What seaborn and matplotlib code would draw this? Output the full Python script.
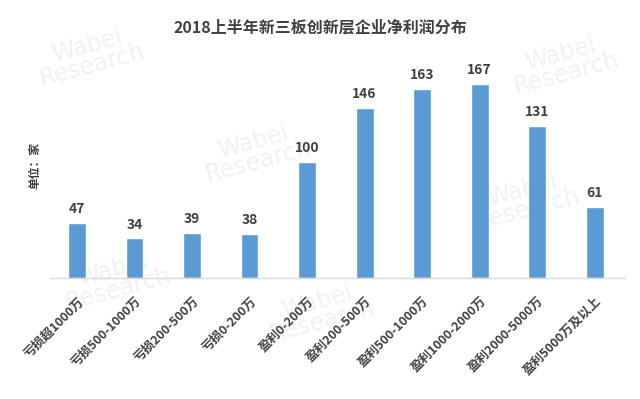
import pandas as pd
import seaborn as sns
import matplotlib.pyplot as plt

# 数据
categories = ['亏损超1000万', '亏损500-1000万', '亏损200-500万', '亏损0-200万',
              '盈利0-200万', '盈利200-500万', '盈利500-1000万', '盈利1000-2000万',
              '盈利2000-5000万', '盈利5000万及以上']
counts = [47, 34, 39, 38, 100, 146, 163, 167, 131, 61]

title = '2018上半年新三板创新层企业净利润分布'
unit_label = '单位：家'

df = pd.DataFrame({'category': categories, 'count': counts})

sns.set_theme(style='white')
plt.rcParams['font.family'] = ['Noto Sans CJK SC', 'DejaVu Sans']

fig = plt.figure(figsize=(6.4, 3.99), dpi=100)
ax = fig.add_axes([0.078, 0.3033, 0.898, 0.5463])
ax.set_zorder(1)

# 水印（很淡）
for (wx, wy) in [(0.14, 0.86), (0.88, 0.84), (0.40, 0.62),
                 (0.82, 0.50), (0.50, 0.22), (0.18, 0.30)]:
    fig.text(wx, wy, 'Wabei\nResearch', color='#eef1f5', fontsize=17,
             rotation=15, ha='center', va='center', linespacing=0.8, zorder=-1,
             family='DejaVu Sans')

sns.barplot(data=df, x='category', y='count', color='#5b9bd5', saturation=1,
            width=0.31, ax=ax)

for i, v in enumerate(counts):
    ax.text(i, v + 6, str(v), ha='center', va='bottom', fontsize=10,
            fontweight='bold', color='#404040')

ax.set_xlim(-0.47, 9.52)
ax.set_ylim(0, 187.6)
ax.set_yticks([])
ax.set_xlabel('')
ax.set_ylabel('')
ax.patch.set_alpha(0)
for s in ['top', 'right', 'left']:
    ax.spines[s].set_visible(False)
ax.spines['bottom'].set_color('#d9d9d9')
ax.spines['bottom'].set_linewidth(1)

ax.tick_params(axis='x', length=0, pad=12)
plt.setp(ax.get_xticklabels(), rotation=45, ha='right', rotation_mode='anchor',
         fontsize=9, fontweight='bold', color='#404040')

fig.text(0.5, 0.932, title, ha='center', va='center', fontsize=11.5,
         fontweight='bold', color='#404040')
fig.text(0.055, 0.585, unit_label, ha='center', va='center', rotation=90,
         fontsize=8.5, fontweight='bold', color='#404040')

fig.savefig('out.png', dpi=100, facecolor='white')
